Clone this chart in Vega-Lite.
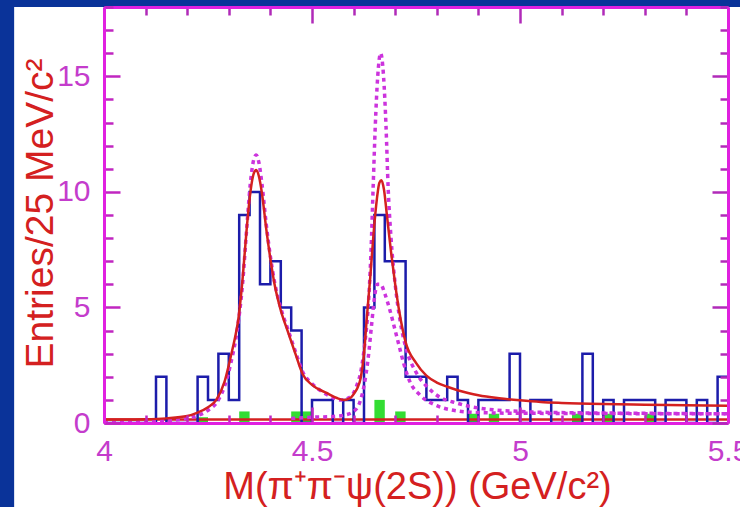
{
  "$schema": "https://vega.github.io/schema/vega-lite/v6.json",
  "width": 624,
  "height": 416,
  "autosize": {"type": "none"},
  "padding": {"left": 104, "top": 7, "right": 12, "bottom": 84},
  "background": "#0a3399",
  "config": {"view": {"stroke": null}, "font": "Liberation Sans"},
  "datasets": {
    "bg": [{"x1": 3.784, "x2": 5.6, "y1": -4, "y2": 18}],
    "green": [
      {"x1": 4.225, "x2": 4.25, "b": 0, "h": 0.25},
      {"x1": 4.325, "x2": 4.35, "b": 0, "h": 0.5},
      {"x1": 4.45, "x2": 4.5, "b": 0, "h": 0.5},
      {"x1": 4.65, "x2": 4.675, "b": 0, "h": 1.0},
      {"x1": 4.7, "x2": 4.725, "b": 0, "h": 0.5},
      {"x1": 4.875, "x2": 4.9, "b": 0, "h": 0.4},
      {"x1": 4.925, "x2": 4.95, "b": 0, "h": 0.4},
      {"x1": 5.125, "x2": 5.15, "b": 0, "h": 0.4},
      {"x1": 5.2, "x2": 5.225, "b": 0, "h": 0.4},
      {"x1": 5.3, "x2": 5.325, "b": 0, "h": 0.4}
    ],
    "flat": [{"x": 4.0, "y": 0.15}, {"x": 5.5, "y": 0.15}],
    "hist": [
      {"x": 4.0, "n": 0}, {"x": 4.025, "n": 0}, {"x": 4.05, "n": 0}, {"x": 4.075, "n": 0},
      {"x": 4.1, "n": 0}, {"x": 4.125, "n": 2}, {"x": 4.15, "n": 0}, {"x": 4.175, "n": 0},
      {"x": 4.2, "n": 0}, {"x": 4.225, "n": 2}, {"x": 4.25, "n": 1}, {"x": 4.275, "n": 3},
      {"x": 4.3, "n": 1}, {"x": 4.325, "n": 9}, {"x": 4.35, "n": 10}, {"x": 4.375, "n": 6},
      {"x": 4.4, "n": 7}, {"x": 4.425, "n": 5}, {"x": 4.45, "n": 4}, {"x": 4.475, "n": 0},
      {"x": 4.5, "n": 1}, {"x": 4.525, "n": 1}, {"x": 4.55, "n": 0}, {"x": 4.575, "n": 1},
      {"x": 4.6, "n": 0}, {"x": 4.625, "n": 5}, {"x": 4.65, "n": 9}, {"x": 4.675, "n": 7},
      {"x": 4.7, "n": 7}, {"x": 4.725, "n": 2}, {"x": 4.75, "n": 2}, {"x": 4.775, "n": 1},
      {"x": 4.8, "n": 1}, {"x": 4.825, "n": 2}, {"x": 4.85, "n": 1}, {"x": 4.875, "n": 0},
      {"x": 4.9, "n": 1}, {"x": 4.925, "n": 1}, {"x": 4.95, "n": 1}, {"x": 4.975, "n": 3},
      {"x": 5.0, "n": 0}, {"x": 5.025, "n": 1}, {"x": 5.05, "n": 1}, {"x": 5.075, "n": 0},
      {"x": 5.1, "n": 0}, {"x": 5.125, "n": 0}, {"x": 5.15, "n": 3}, {"x": 5.175, "n": 0},
      {"x": 5.2, "n": 1}, {"x": 5.225, "n": 0}, {"x": 5.25, "n": 1}, {"x": 5.275, "n": 1},
      {"x": 5.3, "n": 1}, {"x": 5.325, "n": 0}, {"x": 5.35, "n": 1}, {"x": 5.375, "n": 1},
      {"x": 5.4, "n": 0}, {"x": 5.425, "n": 1}, {"x": 5.45, "n": 0}, {"x": 5.475, "n": 2},
      {"x": 5.5, "n": 2}
    ],
    "fit": [
      {"x": 4.0, "y": 0.15}, {"x": 4.05, "y": 0.15}, {"x": 4.1, "y": 0.16}, {"x": 4.15, "y": 0.2},
      {"x": 4.2, "y": 0.3}, {"x": 4.225, "y": 0.45}, {"x": 4.25, "y": 0.68}, {"x": 4.27, "y": 1.0},
      {"x": 4.29, "y": 1.8}, {"x": 4.305, "y": 2.9}, {"x": 4.315, "y": 3.7}, {"x": 4.323, "y": 4.5},
      {"x": 4.333, "y": 6.2}, {"x": 4.343, "y": 8.4}, {"x": 4.352, "y": 10.0}, {"x": 4.36, "y": 10.8},
      {"x": 4.366, "y": 10.95}, {"x": 4.372, "y": 10.7}, {"x": 4.38, "y": 9.9}, {"x": 4.39, "y": 8.4},
      {"x": 4.4, "y": 7.1}, {"x": 4.41, "y": 6.0}, {"x": 4.423, "y": 5.0}, {"x": 4.443, "y": 3.9},
      {"x": 4.46, "y": 3.0}, {"x": 4.478, "y": 2.1}, {"x": 4.5, "y": 1.65}, {"x": 4.535, "y": 1.3},
      {"x": 4.56, "y": 1.08}, {"x": 4.578, "y": 1.0}, {"x": 4.592, "y": 1.08}, {"x": 4.602, "y": 1.3},
      {"x": 4.61, "y": 1.55}, {"x": 4.617, "y": 1.95}, {"x": 4.625, "y": 3.0}, {"x": 4.632, "y": 4.6},
      {"x": 4.64, "y": 6.3}, {"x": 4.648, "y": 8.2}, {"x": 4.656, "y": 9.7}, {"x": 4.662, "y": 10.4},
      {"x": 4.667, "y": 10.5}, {"x": 4.673, "y": 10.1}, {"x": 4.68, "y": 9.0}, {"x": 4.69, "y": 7.4},
      {"x": 4.7, "y": 6.0}, {"x": 4.71, "y": 4.8}, {"x": 4.725, "y": 3.5}, {"x": 4.75, "y": 2.6},
      {"x": 4.775, "y": 2.05}, {"x": 4.8, "y": 1.75}, {"x": 4.825, "y": 1.57}, {"x": 4.85, "y": 1.42},
      {"x": 4.875, "y": 1.3}, {"x": 4.9, "y": 1.2}, {"x": 4.95, "y": 1.07}, {"x": 5.0, "y": 0.98},
      {"x": 5.05, "y": 0.91}, {"x": 5.1, "y": 0.87}, {"x": 5.2, "y": 0.82}, {"x": 5.3, "y": 0.79},
      {"x": 5.4, "y": 0.77}, {"x": 5.5, "y": 0.75}
    ],
    "solA": [
      {"x": 4.0, "y": 0.03}, {"x": 4.1, "y": 0.06}, {"x": 4.15, "y": 0.1}, {"x": 4.2, "y": 0.2},
      {"x": 4.225, "y": 0.32}, {"x": 4.25, "y": 0.55}, {"x": 4.275, "y": 1.0}, {"x": 4.29, "y": 1.6},
      {"x": 4.305, "y": 2.6}, {"x": 4.32, "y": 4.0}, {"x": 4.333, "y": 6.0}, {"x": 4.343, "y": 8.4},
      {"x": 4.352, "y": 10.4}, {"x": 4.36, "y": 11.4}, {"x": 4.366, "y": 11.6}, {"x": 4.372, "y": 11.3},
      {"x": 4.38, "y": 10.3}, {"x": 4.39, "y": 8.6}, {"x": 4.4, "y": 7.2}, {"x": 4.41, "y": 6.1},
      {"x": 4.423, "y": 5.1}, {"x": 4.443, "y": 4.0}, {"x": 4.46, "y": 3.1}, {"x": 4.478, "y": 2.2},
      {"x": 4.5, "y": 1.7}, {"x": 4.525, "y": 1.35}, {"x": 4.55, "y": 1.1}, {"x": 4.57, "y": 1.0},
      {"x": 4.59, "y": 1.1}, {"x": 4.605, "y": 1.5}, {"x": 4.62, "y": 2.5}, {"x": 4.628, "y": 3.6},
      {"x": 4.635, "y": 5.0}, {"x": 4.642, "y": 7.5}, {"x": 4.647, "y": 10.2}, {"x": 4.652, "y": 12.8},
      {"x": 4.658, "y": 15.0}, {"x": 4.665, "y": 16.0}, {"x": 4.672, "y": 15.0}, {"x": 4.678, "y": 12.8},
      {"x": 4.683, "y": 10.2}, {"x": 4.69, "y": 8.0}, {"x": 4.7, "y": 6.0}, {"x": 4.712, "y": 4.4},
      {"x": 4.725, "y": 3.3}, {"x": 4.75, "y": 2.2}, {"x": 4.775, "y": 1.6}, {"x": 4.8, "y": 1.2},
      {"x": 4.85, "y": 0.85}, {"x": 4.9, "y": 0.65}, {"x": 5.0, "y": 0.5}, {"x": 5.1, "y": 0.45},
      {"x": 5.3, "y": 0.42}, {"x": 5.5, "y": 0.4}
    ],
    "solB": [
      {"x": 4.45, "y": 0.2}, {"x": 4.5, "y": 0.25}, {"x": 4.55, "y": 0.28}, {"x": 4.58, "y": 0.35},
      {"x": 4.6, "y": 0.5}, {"x": 4.615, "y": 0.9}, {"x": 4.625, "y": 1.6}, {"x": 4.635, "y": 2.8},
      {"x": 4.643, "y": 4.2}, {"x": 4.65, "y": 5.4}, {"x": 4.657, "y": 6.0}, {"x": 4.665, "y": 6.0},
      {"x": 4.675, "y": 5.6}, {"x": 4.687, "y": 4.9}, {"x": 4.7, "y": 4.0}, {"x": 4.71, "y": 3.3},
      {"x": 4.72, "y": 2.6}, {"x": 4.735, "y": 1.8}, {"x": 4.76, "y": 1.2}, {"x": 4.8, "y": 0.75},
      {"x": 4.84, "y": 0.55}, {"x": 4.9, "y": 0.45}, {"x": 5.0, "y": 0.42}, {"x": 5.5, "y": 0.4}
    ]
  },
  "resolve": {"axis": {"x": "independent", "y": "independent"}},
  "layer": [
    {
      "data": {"name": "bg"},
      "mark": {"type": "rect", "fill": "#ffffff", "clip": false},
      "encoding": {
        "x": {
          "field": "x1", "type": "quantitative",
          "scale": {"domain": [4, 5.5], "nice": false, "zero": false},
          "axis": {
            "orient": "bottom", "zindex": 1,
            "values": [4, 4.1, 4.2, 4.3, 4.4, 4.5, 4.6, 4.7, 4.8, 4.9, 5, 5.1, 5.2, 5.3, 5.4, 5.5],
            "format": "~g",
            "labelExpr": "abs(datum.value*2-round(datum.value*2))<0.01 ? datum.label : ''",
            "labelFlush": false, "labelOverlap": false,
            "labelFontSize": 30, "labelColor": "#c43ccc", "labelPadding": 29,
            "tickSize": {"condition": {"test": "abs(datum.value*2-round(datum.value*2))<0.01", "value": -16}, "value": -8},
            "tickColor": "#c026c0", "tickWidth": 2.5,
            "domainColor": "#e020e0", "domainWidth": 3,
            "grid": false,
            "title": "M(π⁺π⁻ψ(2S)) (GeV/c²)",
            "titleFontSize": 38, "titleFontWeight": "normal", "titleColor": "#d42020",
            "titleBaseline": "alphabetic", "titleX": 313, "titleY": 75
          }
        },
        "x2": {"field": "x2"},
        "y": {
          "field": "y1", "type": "quantitative",
          "scale": {"domain": [0, 18], "nice": false, "zero": false},
          "axis": {
            "orient": "left", "zindex": 1,
            "values": [0, 1, 2, 3, 4, 5, 6, 7, 8, 9, 10, 11, 12, 13, 14, 15, 16, 17, 18],
            "labelExpr": "datum.value % 5 === 0 ? datum.label : ''",
            "labelOverlap": false, "labelFlush": false,
            "labelFontSize": 30, "labelColor": "#c43ccc", "labelPadding": 30,
            "tickSize": {"condition": {"test": "datum.value % 5 === 0", "value": -16}, "value": -9},
            "tickColor": "#c026c0", "tickWidth": 2.5,
            "domainColor": "#e020e0", "domainWidth": 3,
            "grid": false,
            "title": "Entries/25 MeV/c²",
            "titleFontSize": 39, "titleFontWeight": "normal", "titleColor": "#d42020",
            "titleBaseline": "alphabetic", "titleAngle": -90, "titleX": -52, "titleY": 206
          }
        },
        "y2": {"field": "y2"}
      }
    },
    {
      "data": {"name": "green"},
      "mark": {"type": "rect", "fill": "#33dd33"},
      "encoding": {
        "x": {"field": "x1", "type": "quantitative", "scale": {"domain": [4, 5.5], "nice": false, "zero": false}, "axis": null},
        "x2": {"field": "x2"},
        "y": {"field": "h", "type": "quantitative", "scale": {"domain": [0, 18], "nice": false, "zero": false}, "axis": null},
        "y2": {"field": "b"}
      }
    },
    {
      "data": {"name": "flat"},
      "mark": {"type": "line", "color": "#d42020", "strokeWidth": 2.5},
      "encoding": {
        "x": {
          "field": "x", "type": "quantitative",
          "scale": {"domain": [4, 5.5], "nice": false, "zero": false},
          "axis": {
            "orient": "top", "zindex": 1, "labels": false, "title": null, "grid": false,
            "values": [4, 4.1, 4.2, 4.3, 4.4, 4.5, 4.6, 4.7, 4.8, 4.9, 5, 5.1, 5.2, 5.3, 5.4, 5.5],
            "tickSize": {"condition": {"test": "abs(datum.value*2-round(datum.value*2))<0.01", "value": -16}, "value": -8},
            "tickColor": "#b02ab8", "tickWidth": 2.5,
            "domainColor": "#e020e0", "domainWidth": 3
          }
        },
        "y": {
          "field": "y", "type": "quantitative",
          "scale": {"domain": [0, 18], "nice": false, "zero": false},
          "axis": {
            "orient": "right", "zindex": 1, "labels": false, "title": null, "grid": false,
            "values": [0, 1, 2, 3, 4, 5, 6, 7, 8, 9, 10, 11, 12, 13, 14, 15, 16, 17, 18],
            "tickSize": {"condition": {"test": "datum.value % 5 === 0", "value": -16}, "value": -8},
            "tickColor": "#b02ab8", "tickWidth": 2.5,
            "domainColor": "#e020e0", "domainWidth": 3
          }
        }
      }
    },
    {
      "data": {"name": "hist"},
      "mark": {"type": "line", "interpolate": "step-after", "color": "#1c1caa", "strokeWidth": 2.5},
      "encoding": {
        "x": {"field": "x", "type": "quantitative", "scale": {"domain": [4, 5.5], "nice": false, "zero": false}, "axis": null},
        "y": {"field": "n", "type": "quantitative", "scale": {"domain": [0, 18], "nice": false, "zero": false}, "axis": null}
      }
    },
    {
      "data": {"name": "solB"},
      "mark": {"type": "line", "interpolate": "monotone", "color": "#cc33dd", "strokeWidth": 3.5, "strokeDash": [4, 4]},
      "encoding": {
        "x": {"field": "x", "type": "quantitative", "scale": {"domain": [4, 5.5], "nice": false, "zero": false}, "axis": null},
        "y": {"field": "y", "type": "quantitative", "scale": {"domain": [0, 18], "nice": false, "zero": false}, "axis": null}
      }
    },
    {
      "data": {"name": "solA"},
      "mark": {"type": "line", "interpolate": "monotone", "color": "#cc33dd", "strokeWidth": 3.5, "strokeDash": [4, 4]},
      "encoding": {
        "x": {"field": "x", "type": "quantitative", "scale": {"domain": [4, 5.5], "nice": false, "zero": false}, "axis": null},
        "y": {"field": "y", "type": "quantitative", "scale": {"domain": [0, 18], "nice": false, "zero": false}, "axis": null}
      }
    },
    {
      "data": {"name": "fit"},
      "mark": {"type": "line", "interpolate": "monotone", "color": "#d42020", "strokeWidth": 2.5},
      "encoding": {
        "x": {"field": "x", "type": "quantitative", "scale": {"domain": [4, 5.5], "nice": false, "zero": false}, "axis": null},
        "y": {"field": "y", "type": "quantitative", "scale": {"domain": [0, 18], "nice": false, "zero": false}, "axis": null}
      }
    }
  ]
}
